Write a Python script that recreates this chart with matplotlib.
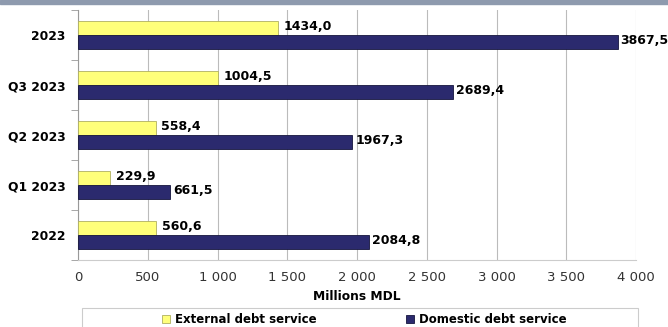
import numpy as np
import matplotlib.pyplot as plt
from matplotlib.patches import Rectangle

periods = ["2022", "Q1 2023", "Q2 2023", "Q3 2023", "2023"]
external = [560.6, 229.9, 558.4, 1004.5, 1434.0]
domestic = [2084.8, 661.5, 1967.3, 2689.4, 3867.5]
xticks = [0, 500, 1000, 1500, 2000, 2500, 3000, 3500, 4000]

yellow = "#ffff7a"
navy = "#2b2a6e"


def fmt(v):
    return f"{v:.1f}".replace(".", ",")


fig = plt.figure(figsize=(6.68, 3.27), dpi=100)
# thin band across the top
fig.add_artist(Rectangle((0, 1 - 3.5 / 327), 1, 3.5 / 327, transform=fig.transFigure,
                         color="#8e9aae", zorder=0))
ax = fig.add_axes([78 / 668, 1 - 260 / 327, (636 - 78) / 668, 250 / 327])

y = np.arange(len(periods))
h = 0.28
ax.barh(y + h / 2, external, height=h, color=yellow, edgecolor="#b0b060", linewidth=0.6,
        label="External debt service", zorder=3)
ax.barh(y - h / 2, domestic, height=h, color=navy, edgecolor="#15153d", linewidth=0.6,
        label="Domestic debt service", zorder=3)

for i in range(len(periods)):
    ax.text(external[i] + 40, y[i] + h / 2 + 0.02, fmt(external[i]), va="center", ha="left",
            fontsize=9, fontweight="bold")
    ax.text(domestic[i] + 20, y[i] - h / 2 + 0.02, fmt(domestic[i]), va="center", ha="left",
            fontsize=9, fontweight="bold")

ax.set_xlim(0, 4000)
ax.set_ylim(-0.5, len(periods) - 0.5)
ax.set_xticks(xticks)
ax.set_xticklabels([f"{t:,}".replace(",", " ") for t in xticks], fontsize=9.5, color="#333333")
ax.set_yticks(y)
ax.set_yticklabels(periods, fontsize=8.8, fontweight="bold")
ax.set_yticks(np.arange(len(periods) + 1) - 0.5, minor=True)
ax.tick_params(axis="y", which="major", length=0, pad=9)
ax.tick_params(axis="y", which="minor", length=5, color="#999999")
ax.tick_params(axis="x", length=0, pad=8)
ax.grid(axis="x", color="#bbbbbb", linewidth=0.8, zorder=0)
for s in ["top", "right"]:
    ax.spines[s].set_visible(False)
ax.spines["left"].set_color("#999999")
ax.spines["bottom"].set_color("#cccccc")
ax.set_xlabel("Millions MDL", fontsize=8.8, fontweight="bold", labelpad=4)

# legend box running off the bottom edge
fig.add_artist(Rectangle((82 / 668, -0.05), (638 - 82) / 668, 0.05 + 1 - 308 / 327,
                         transform=fig.transFigure, facecolor="white",
                         edgecolor="#cccccc", linewidth=0.8))
leg = fig.legend(loc="center", bbox_to_anchor=(364 / 668, 1 - 319.5 / 327),
                 ncol=2, frameon=False, handlelength=0.7, handleheight=0.7,
                 handletextpad=0.4, columnspacing=7.6, borderpad=0, borderaxespad=0,
                 prop={"weight": "bold", "size": 8.5})

fig.savefig("out.png", dpi=100)
